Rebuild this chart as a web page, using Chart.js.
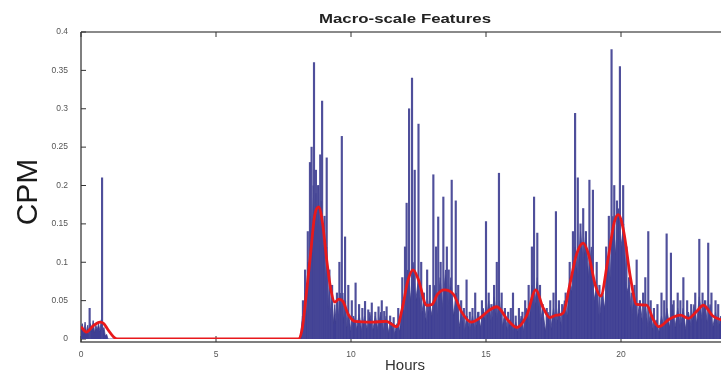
<!DOCTYPE html>
<html>
<head>
<meta charset="utf-8">
<script src="https://cdn.jsdelivr.net/npm/chart.js@4.4.1/dist/chart.umd.min.js"></script>
<style>
  html, body { margin: 0; padding: 0; background: #fff; overflow: hidden; }
  #wrap { position: absolute; left: 0; top: 0; width: 760px; height: 372px; }
</style>
</head>
<body>
<div id="wrap"><canvas id="cpmChart" width="760" height="372"></canvas></div>
<script>
// raw activity (dense trace), hours since midnight
const activityHours = [
  0.00, 0.05, 0.10, 0.15, 0.20, 0.25, 0.30, 0.35, 0.40, 0.45, 0.50, 0.55, 0.60, 0.65, 0.70, 0.75, 0.80, 0.85, 0.90, 0.95, 1.00,
  8.10, 8.15, 8.20, 8.25, 8.30, 8.35, 8.40, 8.45, 8.50, 8.55, 8.60, 8.65, 8.70, 8.75, 8.80, 8.85, 8.90, 8.95,
  9.00, 9.05, 9.10, 9.15, 9.20, 9.25, 9.30, 9.35, 9.40, 9.45, 9.50, 9.55, 9.60, 9.65, 9.70, 9.75, 9.80, 9.85, 9.90,
  10.0, 10.1, 10.2, 10.3, 10.4, 10.5, 10.6, 10.7, 10.8, 10.9,
  11.0, 11.1, 11.2, 11.3, 11.4, 11.5, 11.6, 11.7, 11.8, 11.9,
  12.0, 12.1, 12.2, 12.3, 12.4, 12.5, 12.6, 12.7, 12.8, 12.9,
  13.0, 13.1, 13.2, 13.3, 13.4, 13.5, 13.6, 13.7, 13.8, 13.9,
  14.0, 14.1, 14.2, 14.3, 14.4, 14.5, 14.6, 14.7, 14.8, 14.9,
  15.0, 15.1, 15.2, 15.3, 15.4, 15.5, 15.6, 15.7, 15.8, 15.9,
  16.0, 16.1, 16.2, 16.3, 16.4, 16.5, 16.6, 16.7, 16.8, 16.9,
  17.0, 17.1, 17.2, 17.3, 17.4, 17.5, 17.6, 17.7, 17.8, 17.9,
  18.0, 18.1, 18.2, 18.3, 18.4, 18.5, 18.6, 18.7, 18.8, 18.9,
  19.0, 19.1, 19.2, 19.3, 19.4, 19.5, 19.6, 19.7, 19.8, 19.9,
  20.0, 20.1, 20.2, 20.3, 20.4, 20.5, 20.6, 20.7, 20.8, 20.9,
  21.0, 21.1, 21.2, 21.3, 21.4, 21.5, 21.6, 21.7, 21.8, 21.9,
  22.0, 22.1, 22.2, 22.3, 22.4, 22.5, 22.6, 22.7, 22.8, 22.9,
  23.0, 23.1, 23.2, 23.3, 23.4, 23.5, 23.6, 23.7, 23.8, 23.9, 24.0
];
const activityCpm = [
  0.012, 0.02, 0.006, 0.022, 0.008, 0.018, 0.005, 0.02, 0.01, 0.024, 0.008, 0.018, 0.012, 0.02, 0.01, 0.025, 0.01, 0.015, 0.004, 0.006, 0,
  0, 0.01, 0.03, 0.015, 0.06, 0.03, 0.1, 0.07, 0.16, 0.1, 0.2, 0.14, 0.19, 0.13, 0.2, 0.12, 0.18, 0.11,
  0.14, 0.07, 0.12, 0.04, 0.07, 0.03, 0.05, 0.02, 0.045, 0.02, 0.05, 0.025, 0.06, 0.03, 0.06, 0.02, 0.05, 0.015, 0.035,
  0.01, 0.03, 0.012, 0.032, 0.01, 0.03, 0.012, 0.035, 0.01, 0.03,
  0.012, 0.035, 0.01, 0.03, 0.008, 0.022, 0.006, 0.02, 0.01, 0.05,
  0.03, 0.09, 0.05, 0.1, 0.05, 0.08, 0.03, 0.05, 0.02, 0.05,
  0.03, 0.07, 0.03, 0.08, 0.04, 0.09, 0.04, 0.08, 0.03, 0.06,
  0.015, 0.035, 0.01, 0.03, 0.01, 0.03, 0.01, 0.035, 0.015, 0.04,
  0.02, 0.05, 0.02, 0.055, 0.025, 0.05, 0.015, 0.035, 0.01, 0.025,
  0.008, 0.022, 0.008, 0.03, 0.01, 0.04, 0.02, 0.07, 0.04, 0.08,
  0.02, 0.04, 0.01, 0.035, 0.012, 0.04, 0.015, 0.045, 0.015, 0.05,
  0.03, 0.08, 0.06, 0.12, 0.08, 0.14, 0.1, 0.14, 0.08, 0.12,
  0.05, 0.07, 0.025, 0.06, 0.04, 0.1, 0.08, 0.16, 0.11, 0.17,
  0.12, 0.15, 0.06, 0.07, 0.03, 0.06, 0.025, 0.05, 0.02, 0.045,
  0.015, 0.035, 0.01, 0.025, 0.008, 0.03, 0.012, 0.04, 0.015, 0.045,
  0.015, 0.04, 0.015, 0.04, 0.012, 0.035, 0.015, 0.045, 0.02, 0.055,
  0.025, 0.05, 0.02, 0.045, 0.015, 0.035, 0.015, 0.03, 0.012, 0.03, 0.01
];

// individual bursts that stick out of the trace
const burstHours = [
  0.32, 0.78,
  8.22, 8.30, 8.40, 8.48, 8.54, 8.63, 8.70, 8.78, 8.86, 8.93, 9.02, 9.10, 9.20, 9.30, 9.48, 9.57, 9.66, 9.78, 9.90,
  10.03, 10.17, 10.30, 10.42, 10.52, 10.64, 10.77, 10.90, 11.02, 11.14, 11.23, 11.32, 11.45, 11.58, 11.75, 11.90,
  12.00, 12.06, 12.15, 12.26, 12.36, 12.50, 12.60, 12.70, 12.82, 12.92, 13.05, 13.15, 13.23, 13.32, 13.42, 13.55,
  13.62, 13.73, 13.88, 13.97, 14.08, 14.18, 14.28, 14.40, 14.50, 14.60, 14.72, 14.85, 15.00, 15.10, 15.20, 15.30,
  15.40, 15.48, 15.58, 15.70, 15.82, 15.92, 16.00, 16.10, 16.22, 16.35, 16.45, 16.58, 16.70, 16.78, 16.90, 17.00,
  17.10, 17.25, 17.38, 17.50, 17.59, 17.70, 17.82, 17.95, 18.10, 18.22, 18.30, 18.40, 18.50, 18.60, 18.70, 18.83,
  18.96, 19.10, 19.20, 19.32, 19.45, 19.55, 19.65, 19.75, 19.85, 19.96, 20.08, 20.20, 20.30, 20.40, 20.50, 20.58,
  20.70, 20.82, 20.90, 21.01, 21.10, 21.22, 21.35, 21.50, 21.60, 21.69, 21.85, 21.95, 22.10, 22.20, 22.31, 22.45,
  22.60, 22.75, 22.90, 23.02, 23.12, 23.23, 23.35, 23.50, 23.60, 23.75, 23.90
];
const burstCpm = [
  0.04, 0.21,
  0.05, 0.09, 0.14, 0.23, 0.25, 0.36, 0.22, 0.2, 0.24, 0.31, 0.16, 0.236, 0.09, 0.07, 0.06, 0.1, 0.264, 0.133, 0.07,
  0.05, 0.073, 0.045, 0.04, 0.049, 0.038, 0.047, 0.035, 0.042, 0.05, 0.036, 0.042, 0.03, 0.028, 0.04, 0.08,
  0.12, 0.177, 0.3, 0.34, 0.22, 0.28, 0.1, 0.06, 0.09, 0.07, 0.214, 0.12, 0.159, 0.1, 0.185, 0.12,
  0.09, 0.207, 0.18, 0.07, 0.05, 0.04, 0.077, 0.035, 0.04, 0.06, 0.035, 0.05, 0.153, 0.06, 0.045, 0.07,
  0.1, 0.216, 0.06, 0.04, 0.035, 0.04, 0.06, 0.03, 0.04, 0.035, 0.05, 0.07, 0.12, 0.185, 0.138, 0.07,
  0.045, 0.04, 0.05, 0.06, 0.166, 0.05, 0.045, 0.06, 0.1, 0.14, 0.294, 0.21, 0.15, 0.17, 0.14, 0.207,
  0.194, 0.1, 0.07, 0.06, 0.12, 0.16, 0.377, 0.2, 0.18, 0.355, 0.2, 0.12, 0.08, 0.06, 0.07, 0.103,
  0.05, 0.06, 0.08, 0.14, 0.05, 0.04, 0.045, 0.06, 0.05, 0.137, 0.112, 0.05, 0.06, 0.05, 0.08, 0.05,
  0.045, 0.06, 0.13, 0.06, 0.05, 0.125, 0.06, 0.05, 0.045, 0.06, 0.05
];

// smoothed macro-scale curve
const smoothHours = [
  0.0, 0.2, 0.45, 0.7, 0.85, 1.0, 1.2, 1.35, 8.05, 8.2, 8.35, 8.5, 8.65, 8.8, 8.95, 9.1, 9.25, 9.4, 9.55, 9.7, 9.9,
  10.15, 10.8, 11.3, 11.7, 11.9, 12.1, 12.3, 12.5, 12.8, 13.0, 13.2, 13.45, 13.8, 14.1, 14.45, 14.8, 15.1, 15.4, 15.8,
  16.15, 16.5, 16.85, 17.1, 17.37, 17.6, 17.86, 18.1, 18.35, 18.6, 18.8, 19.05, 19.25, 19.5, 19.75, 19.9, 20.1, 20.35,
  20.58, 20.95, 21.2, 21.4, 21.8, 22.2, 22.5, 22.8, 23.05, 23.4, 23.7, 24.0
];
const smoothCpm = [
  0.016, 0.009, 0.017, 0.022, 0.02, 0.012, 0.003, 0, 0, 0.015, 0.06, 0.11, 0.16, 0.172, 0.15, 0.103, 0.065, 0.048, 0.052, 0.049, 0.032,
  0.023, 0.022, 0.023, 0.016, 0.04, 0.075, 0.09, 0.077, 0.044, 0.045, 0.058, 0.064, 0.058, 0.035, 0.022, 0.028, 0.037, 0.042, 0.025,
  0.015, 0.03, 0.064, 0.042, 0.028, 0.031, 0.034, 0.07, 0.11, 0.125, 0.11, 0.07, 0.056, 0.1, 0.152, 0.162, 0.14, 0.08,
  0.045, 0.044, 0.025, 0.016, 0.026, 0.031, 0.027, 0.036, 0.044, 0.03, 0.025, 0.02
];

const hourTicks = [0, 5, 10, 15, 20];
const cpmTicks = [0, 0.05, 0.1, 0.15, 0.2, 0.25, 0.3, 0.35, 0.4];

const toPoints = (xs, ys) => xs.map((x, i) => ({ x: x, y: ys[i] }));

// frame, inward ticks and the big axis captions
const framePlugin = {
  id: 'frame',
  beforeDatasetsDraw(chart) {
    const { ctx, chartArea: a, scales } = chart;
    ctx.save();
    ctx.strokeStyle = '#8a8a8a';
    ctx.lineWidth = 2;
    ctx.beginPath();
    ctx.moveTo(a.left, a.top); ctx.lineTo(a.right, a.top); ctx.lineTo(a.right, a.bottom);
    ctx.stroke();
    ctx.strokeStyle = '#555';
    ctx.lineWidth = 1.5;
    ctx.beginPath();
    ctx.moveTo(a.left, a.top); ctx.lineTo(a.left, a.bottom + 3); ctx.lineTo(a.right, a.bottom + 3);
    ctx.stroke();
    ctx.lineWidth = 1;
    ctx.strokeStyle = '#333';
    ctx.beginPath();
    cpmTicks.forEach(v => {
      const y = scales.y.getPixelForValue(v);
      ctx.moveTo(a.left, y); ctx.lineTo(a.left + 5, y);
    });
    hourTicks.forEach(h => {
      const x = scales.x.getPixelForValue(h);
      ctx.moveTo(x, a.bottom + 3); ctx.lineTo(x, a.bottom - 3);
      ctx.moveTo(x, a.top); ctx.lineTo(x, a.top + 5);
    });
    ctx.stroke();
    ctx.restore();
  },
  afterDraw(chart) {
    const { ctx, chartArea: a } = chart;
    const cx = (a.left + a.right) / 2;
    ctx.save();
    ctx.fillStyle = '#222';
    ctx.textAlign = 'center';
    ctx.textBaseline = 'alphabetic';
    ctx.font = 'bold 13px "Liberation Sans", Arial, sans-serif';
    const w = ctx.measureText('Macro-scale Features').width;
    ctx.translate(cx, 23);
    ctx.scale(172 / w, 1);
    ctx.fillText('Macro-scale Features', 0, 0);
    ctx.restore();

    ctx.save();
    ctx.fillStyle = '#333';
    ctx.textAlign = 'center';
    ctx.font = '15px "Liberation Sans", Arial, sans-serif';
    ctx.fillText('Hours', cx, 370);
    ctx.restore();

    ctx.save();
    ctx.fillStyle = '#1a1a1a';
    ctx.textAlign = 'center';
    ctx.textBaseline = 'middle';
    ctx.font = '30px "Liberation Sans", Arial, sans-serif';
    ctx.translate(29, 192);
    ctx.rotate(-Math.PI / 2);
    ctx.fillText('CPM', 0, 0);
    ctx.restore();
  }
};

const ctx = document.getElementById('cpmChart').getContext('2d');
const cpmChart = new Chart(ctx, {
  type: 'line',
  data: {
    datasets: [
      {
        type: 'line',
        label: 'Smoothed',
        data: toPoints(smoothHours, smoothCpm),
        borderColor: '#e8191c',
        borderWidth: 2.8,
        pointRadius: 0,
        fill: false,
        tension: 0.4,
        cubicInterpolationMode: 'monotone',
        order: 0
      },
      {
        type: 'bar',
        label: 'Bursts',
        data: toPoints(burstHours, burstCpm),
        backgroundColor: 'rgba(70, 70, 150, 0.95)',
        barThickness: 1.5,
        order: 1
      },
      {
        type: 'line',
        label: 'Activity',
        data: toPoints(activityHours, activityCpm),
        borderColor: 'rgba(60, 60, 140, 1)',
        backgroundColor: 'rgba(62, 62, 148, 1)',
        borderWidth: 0.8,
        pointRadius: 0,
        fill: 'origin',
        tension: 0,
        order: 2
      }
    ]
  },
  options: {
    responsive: false,
    animation: false,
    layout: { padding: { top: 32, right: 31, left: 0, bottom: 0 } },
    plugins: {
      legend: { display: false },
      tooltip: { enabled: false }
    },
    scales: {
      x: {
        type: 'linear',
        min: 0,
        max: 24,
        offset: false,
        afterFit: (scale) => { scale.height = 33; },
        afterBuildTicks: (scale) => { scale.ticks = hourTicks.map(v => ({ value: v })); },
        grid: { display: false },
        border: { display: false },
        ticks: { color: '#555', padding: 3, font: { size: 8.5, family: '"Liberation Sans", Arial, sans-serif' } }
      },
      y: {
        min: 0,
        max: 0.4,
        afterFit: (scale) => { scale.width = 81; },
        afterBuildTicks: (scale) => { scale.ticks = cpmTicks.map(v => ({ value: v })); },
        grid: { display: false },
        border: { display: false },
        ticks: {
          color: '#555',
          padding: 5,
          font: { size: 8.5, family: '"Liberation Sans", Arial, sans-serif' },
          callback: (v) => String(+v.toFixed(2))
        }
      }
    }
  },
  plugins: [framePlugin]
});
</script>
</body>
</html>
